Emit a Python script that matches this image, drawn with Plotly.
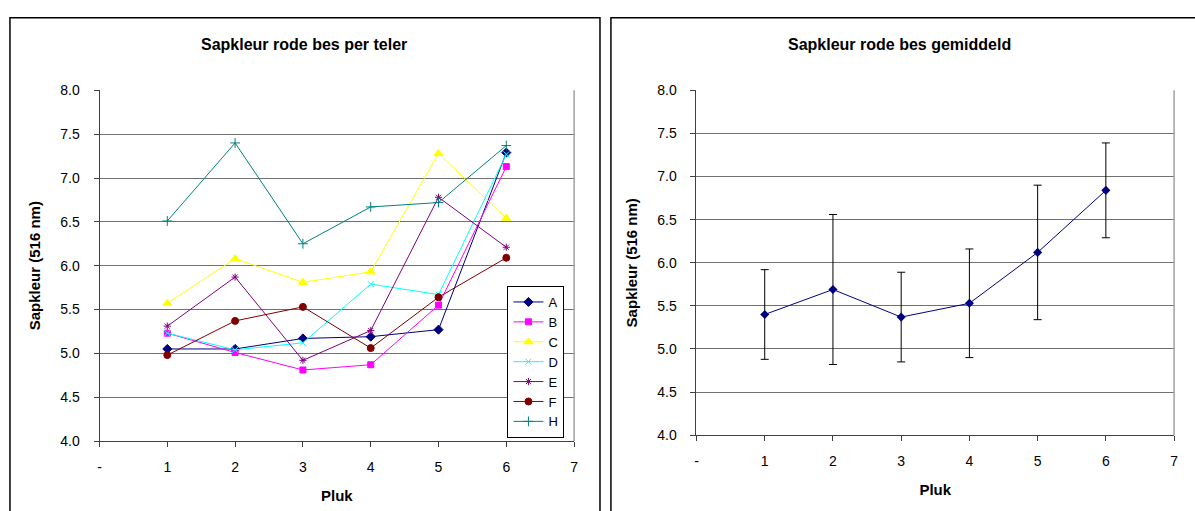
import plotly.graph_objects as go

W, H = 1195, 511

pluk = [1, 2, 3, 4, 5, 6]
x_ticks = [0, 1, 2, 3, 4, 5, 6, 7]
x_ticktext = ["-", "1", "2", "3", "4", "5", "6", "7"]
y_ticks = [4.0, 4.5, 5.0, 5.5, 6.0, 6.5, 7.0, 7.5, 8.0]

teler_A = [5.05, 5.05, 5.17, 5.19, 5.27, 7.29]
teler_B = [5.23, 5.01, 4.81, 4.87, 5.55, 7.13]
teler_C = [5.57, 6.08, 5.81, 5.93, 7.28, 6.54]
teler_D = [5.23, 5.04, 5.12, 5.79, 5.67, 7.27]
teler_E = [5.31, 5.87, 4.92, 5.26, 6.78, 6.21]
teler_F = [4.98, 5.37, 5.53, 5.06, 5.64, 6.09]
teler_H = [6.51, 7.40, 6.25, 6.67, 6.72, 7.37]

gem = [5.40, 5.69, 5.37, 5.53, 6.12, 6.84]
gem_err = [0.52, 0.87, 0.52, 0.63, 0.78, 0.55]

series = [
    ("A", teler_A, "#000080", "diamond", 7),
    ("B", teler_B, "#FF00FF", "square", 6),
    ("C", teler_C, "#FFFF00", "triangle-up", 8),
    ("D", teler_D, "#00FFFF", "x-thin-open", 6),
    ("E", teler_E, "#800080", "asterisk-open", 6),
    ("F", teler_F, "#800000", "circle", 7),
    ("H", teler_H, "#008080", "cross-thin-open", 7),
]

FONT = "Liberation Sans"

fig = go.Figure()
for name, vals, col, sym, sz in series:
    fig.add_trace(go.Scatter(
        x=pluk, y=vals, name=name, mode="lines+markers",
        line=dict(color=col, width=1),
        marker=dict(symbol=sym, size=sz, color=col, line=dict(color=col, width=1)),
        xaxis="x", yaxis="y"))

fig.add_trace(go.Scatter(
    x=pluk, y=gem, mode="lines+markers", showlegend=False,
    line=dict(color="#000080", width=1),
    marker=dict(symbol="diamond", size=7, color="#000080"),
    error_y=dict(type="data", array=gem_err, visible=True, color="black",
                 thickness=1, width=4),
    xaxis="x2", yaxis="y2"))


def px_x(p):
    return p / W


def px_y(p):
    return 1 - p / H


axis_common = dict(
    showline=True, linecolor="#404040", linewidth=1,
    ticks="outside", ticklen=5, tickcolor="#404040", tickwidth=1,
    tickfont=dict(family=FONT, size=14, color="black"),
    zeroline=False,
)

xt = dict(text="<b>Pluk</b>", standoff=16, font=dict(family=FONT, size=15))
yt = dict(text="<b>Sapkleur (516 nm)</b>", standoff=15, font=dict(family=FONT, size=15))

fig.update_layout(
    width=W, height=H, autosize=False,
    margin=dict(l=0, r=0, t=0, b=0),
    paper_bgcolor="white", plot_bgcolor="white",
    font=dict(family=FONT, size=13, color="black"),
    showlegend=True,
    legend=dict(x=px_x(508), y=px_y(287), xanchor="left", yanchor="top",
                bordercolor="black", borderwidth=1, bgcolor="white",
                font=dict(family=FONT, size=13, color="black"),
                itemwidth=30, tracegroupgap=0),
    xaxis=dict(domain=[px_x(98), px_x(575)], range=[0, 7], tickvals=x_ticks,
               ticktext=x_ticktext, showgrid=False, anchor="y",
               ticklabelstandoff=8, title=xt, **axis_common),
    yaxis=dict(domain=[px_y(447), px_y(85)], range=[4, 8], tickvals=y_ticks,
               tickformat=".1f", showgrid=True, gridcolor="#707070", gridwidth=1,
               anchor="x", ticklabelstandoff=11, title=yt, **axis_common),
    xaxis2=dict(domain=[px_x(698), px_x(1178)], range=[0, 7], tickvals=x_ticks,
                ticktext=x_ticktext, showgrid=False, anchor="y2",
                ticklabelstandoff=8, title=xt, **axis_common),
    yaxis2=dict(domain=[px_y(441), px_y(85)], range=[4, 8], tickvals=y_ticks,
                tickformat=".1f", showgrid=True, gridcolor="#707070", gridwidth=1,
                anchor="x2", ticklabelstandoff=11, title=yt, **axis_common),
)

shapes = [
    dict(type="rect", xref="paper", yref="paper",
         x0=px_x(8), x1=px_x(601), y0=px_y(530), y1=px_y(10),
         line=dict(color="black", width=1.5), fillcolor="rgba(0,0,0,0)", layer="below"),
    dict(type="rect", xref="paper", yref="paper",
         x0=px_x(612), x1=px_x(1205), y0=px_y(530), y1=px_y(10),
         line=dict(color="black", width=1.5), fillcolor="rgba(0,0,0,0)", layer="below"),
    dict(type="line", xref="x domain", yref="y domain", x0=1, x1=1, y0=0, y1=1,
         line=dict(color="#a0a0a0", width=1.5)),
    dict(type="line", xref="x2 domain", yref="y2 domain", x0=1, x1=1, y0=0, y1=1,
         line=dict(color="#a0a0a0", width=1.5)),
]
fig.update_layout(shapes=shapes)

fig.add_annotation(text="<b>Sapkleur rode bes per teler</b>", xref="paper", yref="paper",
                   x=px_x(304), y=px_y(38), xanchor="center", yanchor="middle",
                   showarrow=False, font=dict(family=FONT, size=16, color="black"))
fig.add_annotation(text="<b>Sapkleur rode bes gemiddeld</b>", xref="paper", yref="paper",
                   x=px_x(902), y=px_y(38), xanchor="center", yanchor="middle",
                   showarrow=False, font=dict(family=FONT, size=16, color="black"))

fig.write_html("out.html")
